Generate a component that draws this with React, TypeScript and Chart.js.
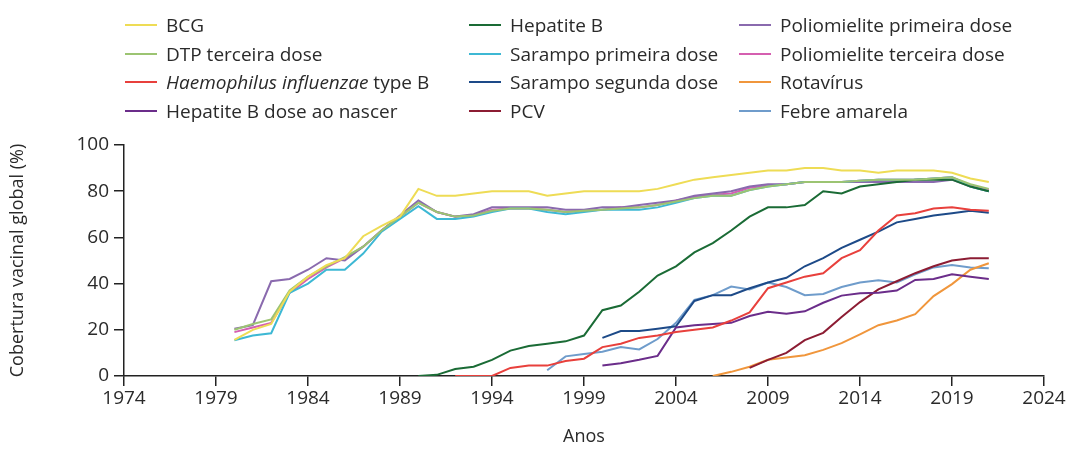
import { useEffect, useRef } from "react"
import { Chart, registerables, type ChartConfiguration } from "chart.js"

Chart.register(...registerables)

// axis ticks
const xTicks = [1974, 1979, 1984, 1989, 1994, 1999, 2004, 2009, 2014, 2019, 2024]
const yTicks = [0, 20, 40, 60, 80, 100]

// series labels, colours and first year of data (legend order, column by column)
const seriesNames = [
  "BCG",
  "DTP terceira dose",
  "Haemophilus influenzae type B",
  "Hepatite B dose ao nascer",
  "Hepatite B",
  "Sarampo primeira dose",
  "Sarampo segunda dose",
  "PCV",
  "Poliomielite primeira dose",
  "Poliomielite terceira dose",
  "Rotavírus",
  "Febre amarela",
]
const italicPart = "Haemophilus influenzae"
const seriesColors = [
  "#eedc55",
  "#9cc472",
  "#e8403c",
  "#6b2d8a",
  "#1a6b35",
  "#3db8d4",
  "#1d4a88",
  "#8c1c33",
  "#8a6aae",
  "#d55fb0",
  "#f0963c",
  "#6f9ccb",
]
const startYears = [1980, 1980, 1992, 2000, 1990, 1980, 2000, 2008, 1980, 1980, 2006, 1997]

// coverage (%) per year, from the start year to 2021
const bcg = [15.6, 20, 22.5, 36.5, 43, 48, 51, 60.5, 65, 69, 81, 78, 78, 79, 80, 80, 80, 78, 79, 80, 80, 80, 80, 81, 83, 85, 86, 87, 88, 89, 89, 90, 90, 89, 89, 88, 89, 89, 89, 88, 85.5, 84]
const dtp3 = [20, 22.5, 24.5, 37, 43, 47.5, 51.5, 56, 63, 69, 75, 71, 69, 69.5, 71.5, 72.5, 72.5, 72, 71, 71.5, 72, 72.5, 73, 74, 75.5, 77, 78, 78, 80.5, 82, 83, 84, 84, 84, 84.5, 85, 85, 85, 85.5, 86, 83, 81]
const hib = [0, 0, 0, 3.5, 4.5, 4.5, 6.5, 7.5, 12.5, 14, 16.5, 17.5, 19, 20, 21, 24, 27.5, 38, 40.5, 43, 44.5, 51, 54.5, 63, 69.5, 70.5, 72.5, 73, 72, 71.5]
const hepBBirth = [4.5, 5.5, 7, 8.7, 21, 22, 22.5, 23, 26, 27.8, 27, 28, 31.7, 34.8, 35.8, 36, 37, 41.6, 42, 44, 43, 42]
const hepB = [0, 0.5, 3, 4, 7, 11, 13, 14, 15, 17.5, 28.5, 30.5, 36.5, 43.5, 47.5, 53.5, 57.5, 63, 69, 73, 73, 74, 80, 79, 82, 83, 84, 85, 85, 85, 82, 80]
const measles1 = [15.5, 17.5, 18.5, 36, 40, 46, 46, 53, 62.5, 68, 73.5, 68, 68, 69, 71, 72.5, 72.5, 71, 70, 71, 72, 72, 72, 73, 75, 77, 78, 78, 80.5, 82, 83, 84, 84, 84, 84.5, 85, 85, 85, 85.5, 86, 82, 80]
const measles2 = [16.5, 19.5, 19.5, 20.5, 21.5, 32.5, 35, 35, 38, 40.5, 42.5, 47.5, 51, 55.5, 59, 62.5, 66.5, 68, 69.5, 70.5, 71.5, 70.7]
const pcv = [3.5, 7, 10, 15.5, 18.7, 25.5, 32, 37.5, 41, 44.5, 47.5, 50, 51, 51]
const polio1 = [20.5, 22, 41, 42, 46, 51, 50, 56, 63, 69.5, 76, 71, 69, 70, 73, 73, 73, 73, 72, 72, 73, 73, 74, 75, 76, 78, 79, 80, 82, 83, 83, 84, 84, 84, 84, 84, 84, 84, 84, 85, 82, 80]
const polio3 = [19, 21, 23, 36, 42, 47, 51, 56, 63, 69, 75, 71, 69, 69.5, 72, 72.5, 72.5, 72, 71, 71.5, 72, 73, 73, 74, 76, 77.5, 78.5, 79, 81.5, 82.5, 83, 84, 84, 84, 84.5, 85, 85, 85, 85.5, 86, 82.5, 80.5]
const rotavirus = [0, 1.8, 4, 7, 8, 9, 11.3, 14.2, 18, 22, 24, 26.8, 34.6, 39.8, 46, 48.8]
const yellowFever = [2.5, 8.5, 9.5, 10.5, 12.5, 11.5, 16, 23, 33, 35, 38.7, 37.5, 40.5, 38.5, 35, 35.5, 38.5, 40.5, 41.5, 40.5, 44, 47, 48, 47, 46.6]

const seriesValues = [bcg, dtp3, hib, hepBBirth, hepB, measles1, measles2, pcv, polio1, polio3, rotavirus, yellowFever]

const FONT = "'Open Sans', 'DejaVu Sans', sans-serif"
const TEXT = "#2a2a2a"
const AXIS = "#222"

function LegendLabel({ name }: { name: string }) {
  if (name.startsWith(italicPart)) {
    return (
      <span style={{ whiteSpace: "pre" }}>
        <i>{italicPart}</i>
        {name.slice(italicPart.length)}
      </span>
    )
  }
  return <span>{name}</span>
}

function Legend() {
  const colLefts = [125, 469, 739]
  return (
    <>
      {seriesNames.map((name, i) => {
        const col = Math.floor(i / 4)
        const row = i % 4
        return (
          <div
            key={name}
            style={{
              position: "absolute",
              left: colLefts[col],
              top: 11 + row * 28.5,
              height: 28,
              display: "flex",
              alignItems: "center",
              fontFamily: FONT,
              fontSize: 19,
              color: TEXT,
              whiteSpace: "nowrap",
            }}
          >
            <span style={{ display: "inline-block", width: 32, height: 2, background: seriesColors[i], marginRight: 9 }} />
            <LegendLabel name={name} />
          </div>
        )
      })}
    </>
  )
}

export default function App() {
  const canvasRef = useRef<HTMLCanvasElement>(null)
  const chartRef = useRef<Chart | null>(null)

  useEffect(() => {
    if (!canvasRef.current) return
    if (chartRef.current) chartRef.current.destroy()

    const datasets = seriesValues.map((values, i) => ({
      label: seriesNames[i],
      data: values.map((v, j) => ({ x: startYears[i] + j, y: v })),
      borderColor: seriesColors[i],
      backgroundColor: seriesColors[i],
      borderWidth: 2,
      pointRadius: 0,
      tension: 0,
      fill: false,
    }))

    const config: ChartConfiguration<"line"> = {
      type: "line",
      data: { datasets },
      options: {
        animation: false,
        responsive: true,
        maintainAspectRatio: false,
        layout: { padding: { top: 145, right: 34, left: 0, bottom: 2 } },
        plugins: {
          legend: { display: false },
          tooltip: { enabled: false },
        },
        scales: {
          x: {
            type: "linear",
            min: 1974,
            max: 2024,
            afterBuildTicks: (scale) => {
              scale.ticks = xTicks.map((v) => ({ value: v }))
            },
            afterFit: (scale) => {
              scale.height = 72
            },
            grid: { drawOnChartArea: false, drawTicks: true, tickLength: 10, color: AXIS, lineWidth: 1.5 },
            border: { display: true, color: AXIS, width: 1.5 },
            ticks: {
              autoSkip: false,
              maxRotation: 0,
              padding: 1,
              color: TEXT,
              font: { family: FONT, size: 19 },
              callback: (v) => String(v),
            },
            title: {
              display: true,
              text: "Anos",
              color: TEXT,
              font: { family: FONT, size: 18 },
              padding: { top: 0, bottom: 0 },
            },
          },
          y: {
            min: 0,
            max: 100,
            afterBuildTicks: (scale) => {
              scale.ticks = yTicks.map((v) => ({ value: v }))
            },
            afterFit: (scale) => {
              scale.width = 124
            },
            grid: { drawOnChartArea: false, drawTicks: true, tickLength: 10, color: AXIS, lineWidth: 1.5 },
            border: { display: true, color: AXIS, width: 1.5 },
            ticks: {
              padding: 5,
              color: TEXT,
              font: { family: FONT, size: 19 },
            },
            title: {
              display: true,
              text: "Cobertura vacinal global (%)",
              color: TEXT,
              font: { family: FONT, size: 18 },
              padding: { top: 7, bottom: 0 },
            },
          },
        },
      },
    }

    chartRef.current = new Chart(canvasRef.current, config)

    return () => {
      if (chartRef.current) {
        chartRef.current.destroy()
        chartRef.current = null
      }
    }
  }, [])

  return (
    <div style={{ position: "fixed", left: 0, top: 0, width: 1078, height: 450, background: "#fff" }}>
      <canvas ref={canvasRef} />
      <Legend />
    </div>
  )
}
